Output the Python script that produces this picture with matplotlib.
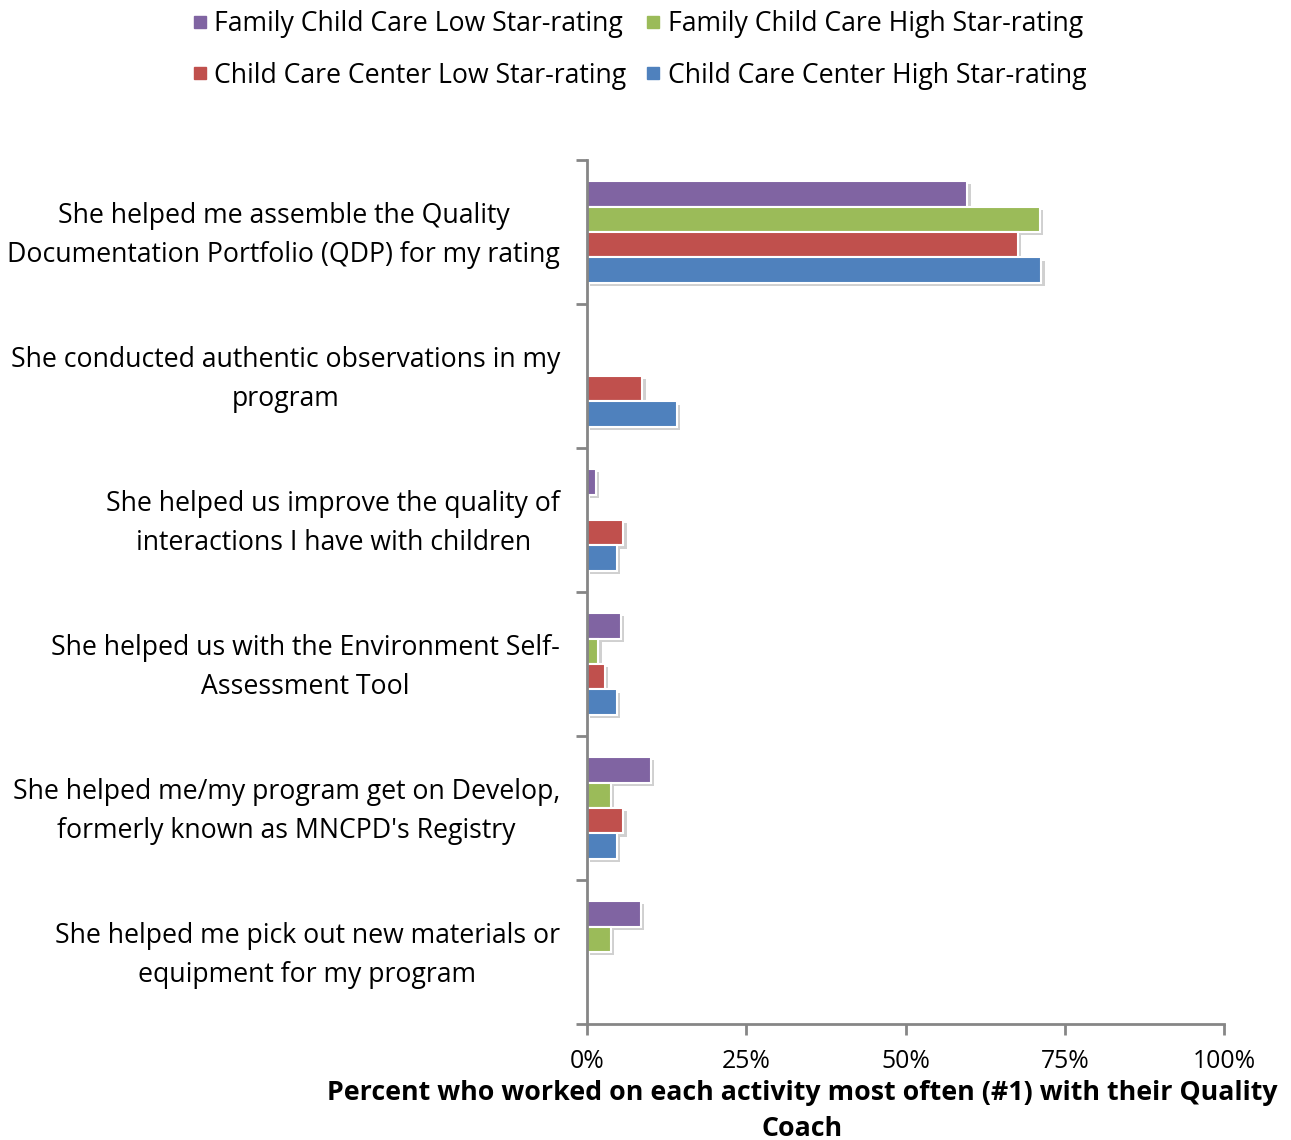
import numpy as np
import matplotlib
matplotlib.use("Agg")
import matplotlib.pyplot as plt
import matplotlib.patheffects as pe
import matplotlib.transforms as mtransforms
from matplotlib.lines import Line2D

plt.rcParams['font.family'] = ['Open Sans', 'DejaVu Sans']

categories = [
    "She helped me assemble the Quality\nDocumentation Portfolio (QDP) for my rating",
    "She conducted authentic observations in my\nprogram",
    "She helped us improve the quality of\ninteractions I have with children",
    "She helped us with the Environment Self-\nAssessment Tool",
    "She helped me/my program get on Develop,\nformerly known as MNCPD's Registry",
    "She helped me pick out new materials or\nequipment for my program",
]
series_names = [
    "Family Child Care Low Star-rating",
    "Family Child Care High Star-rating",
    "Child Care Center Low Star-rating",
    "Child Care Center High Star-rating",
]
fcc_low = [59.7, 0.0, 1.4, 5.3, 10.0, 8.4]
fcc_high = [71.1, 0.0, 0.0, 1.8, 3.7, 3.7]
ccc_low = [67.6, 8.7, 5.7, 2.8, 5.7, 0.0]
ccc_high = [71.3, 14.1, 4.7, 4.7, 4.7, 0.0]
colors = ["#8064A2", "#9BBB59", "#C0504D", "#4F81BD"]
xticks = [0, 25, 50, 75, 100]
xlabel = "Percent who worked on each activity most often (#1) with their Quality\nCoach"

axis_gray = "#868686"

fig = plt.figure(figsize=(12.91, 11.40), dpi=100)
ax = fig.add_axes([587 / 1291, 1 - 1024 / 1140, 637 / 1291, 864 / 1140])

y = np.arange(len(categories))
h = 0.177
shadow = [pe.SimplePatchShadow(offset=(2.5, -2.5), alpha=0.25, shadow_rgbFace="#444444"), pe.Normal()]
handles = []
for i, (vals, col, name) in enumerate(zip([fcc_low, fcc_high, ccc_low, ccc_high], colors, series_names)):
    bars = ax.barh(y + (i - 1.5) * h, vals, height=h, color=col, edgecolor="white",
                   linewidth=1.5, label=name)
    for b in bars:
        if b.get_width() > 0:
            b.set_path_effects(shadow)
    handles.append(Line2D([], [], marker="s", linestyle="none", color=col, markersize=9))

ax.set_xlim(0, 100)
ax.set_ylim(len(categories) - 0.5, -0.5)
ax.set_xticks(xticks)
ax.set_xticklabels([f"{t}%" for t in xticks], fontsize=17.8)

# category labels: right aligned block, centred lines
ax.set_yticks(y)
ax.set_yticklabels([])
lab_tr = ax.get_yaxis_transform() + mtransforms.ScaledTranslation(-27 / 100, -3.5 / 100, fig.dpi_scale_trans)
for yi, lab in zip(y, categories):
    ax.text(0, yi, lab, transform=lab_tr, ha="right", va="center", multialignment="center",
            fontsize=19.2, linespacing=1.52)
ax.set_yticks(np.arange(len(categories) + 1) - 0.5, minor=True)
ax.tick_params(axis="y", which="major", length=0)
ax.tick_params(axis="y", which="minor", length=8, width=2, color=axis_gray, direction="out")
ax.tick_params(axis="x", length=8, width=2, color=axis_gray, direction="out", pad=10)

for s in ["top", "right"]:
    ax.spines[s].set_visible(False)
for s in ["left", "bottom"]:
    ax.spines[s].set_color(axis_gray)
    ax.spines[s].set_linewidth(2)

fig.text(802 / 1291, 1 - 1080 / 1140, xlabel, ha="center", va="top", fontsize=19.3,
         fontweight="bold", linespacing=1.48)

order = [0, 2, 1, 3]
fig.legend([handles[k] for k in order], [series_names[k] for k in order],
           loc="upper left", bbox_to_anchor=(169 / 1291, 1.0 + 14 / 1140), ncol=2, frameon=False,
           fontsize=19.2, handlelength=0.5, handletextpad=0.3, columnspacing=0.75,
           labelspacing=0.89)

fig.savefig("out.png", dpi=100)
